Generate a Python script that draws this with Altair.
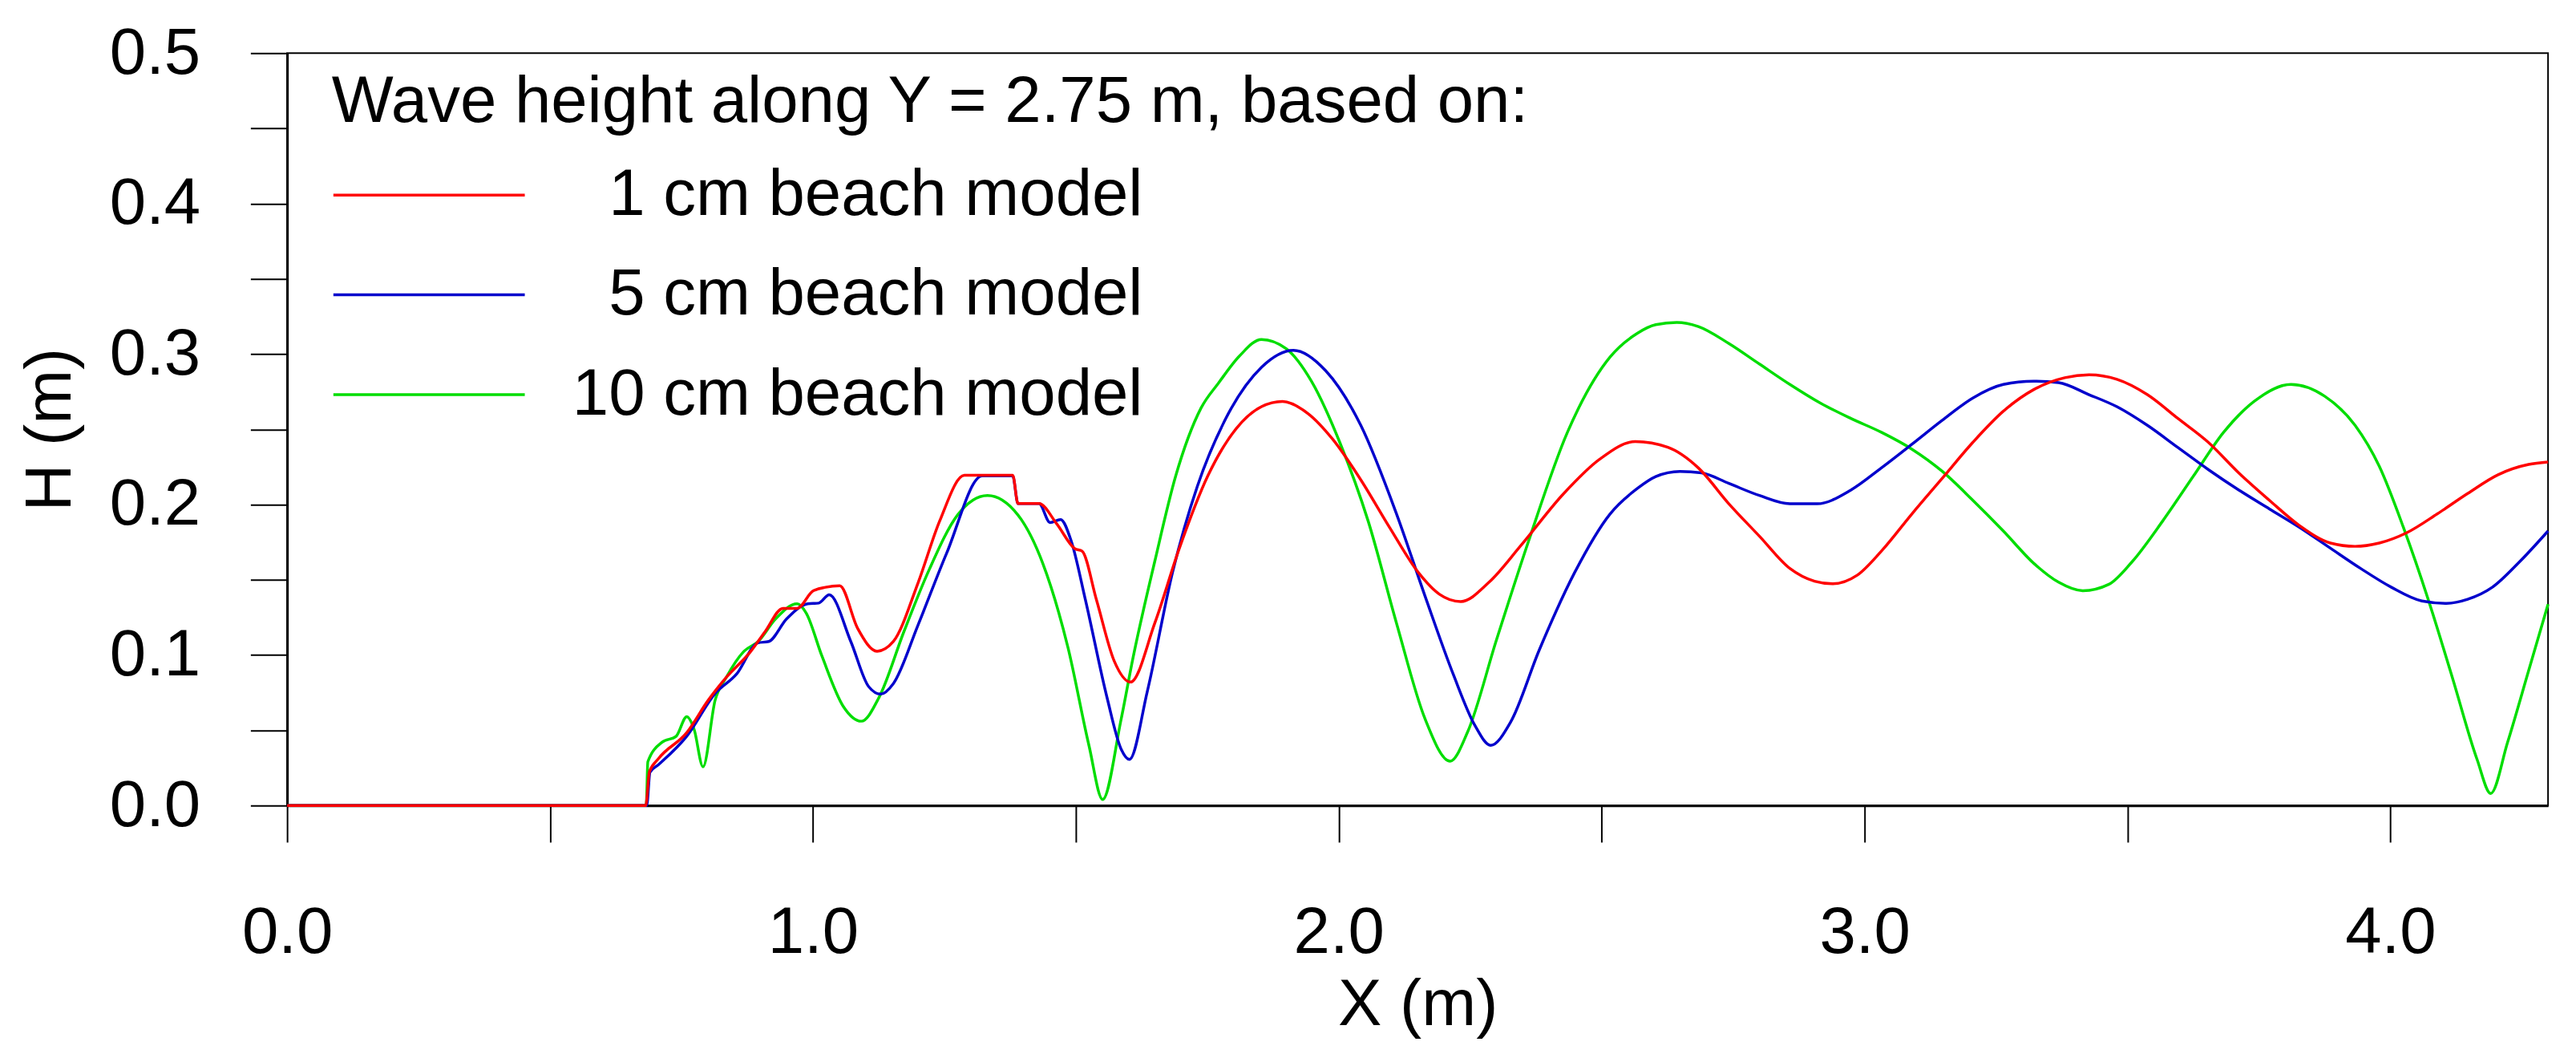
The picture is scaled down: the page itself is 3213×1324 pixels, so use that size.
import altair as alt
import pandas as pd

series_names = ["1 cm beach model", "5 cm beach model", "10 cm beach model"]
series_colors = ["#ff0000", "#0000cc", "#00dd00"]

red_x = [0.0, 0.682, 0.689, 0.706, 0.760, 0.801, 0.835, 0.882, 0.909, 0.943, 0.970, 1.000, 1.024, 1.051,
         1.085, 1.122, 1.153, 1.200, 1.241, 1.288, 1.380, 1.390, 1.430, 1.464, 1.498, 1.512, 1.539, 1.573,
         1.604, 1.650, 1.697, 1.751, 1.805, 1.853, 1.893, 1.941, 1.988, 2.042, 2.097, 2.151, 2.191, 2.232,
         2.286, 2.347, 2.428, 2.496, 2.564, 2.626, 2.684, 2.742, 2.800, 2.858, 2.905, 2.939, 2.986, 3.032,
         3.090, 3.148, 3.206, 3.264, 3.322, 3.381, 3.427, 3.480, 3.538, 3.596, 3.654, 3.712, 3.770, 3.828,
         3.886, 3.933, 3.979, 4.031, 4.089, 4.147, 4.205, 4.263, 4.300]
red_h = [0.0, 0.0, 0.0224, 0.031, 0.0484, 0.070, 0.085, 0.1025, 0.1155, 0.131, 0.131, 0.1425, 0.145, 0.146,
         0.1177, 0.1025, 0.109, 0.148, 0.189, 0.2194, 0.2194, 0.2006, 0.2006, 0.187, 0.1707, 0.169, 0.137, 0.096,
         0.082, 0.121, 0.171, 0.219, 0.2504, 0.265, 0.2685, 0.2606, 0.2436, 0.2164, 0.1846, 0.155, 0.1405, 0.1355,
         0.1484, 0.173, 0.2073, 0.230, 0.2418, 0.238, 0.2243, 0.2005, 0.179, 0.1575, 0.149, 0.1473, 0.153, 0.169,
         0.1937, 0.2175, 0.2413, 0.262, 0.2764, 0.2843, 0.2862, 0.2832, 0.273, 0.2572, 0.2413, 0.2209, 0.2028, 0.1858,
         0.1744, 0.1722, 0.1744, 0.1812, 0.1937, 0.2073, 0.2198, 0.2266, 0.2282]

blue_x = [0.0, 0.684, 0.690, 0.706, 0.760, 0.814, 0.855, 0.895, 0.916, 0.950, 0.990, 1.011, 1.031, 1.072,
          1.106, 1.129, 1.153, 1.200, 1.254, 1.322, 1.380, 1.390, 1.430, 1.451, 1.471, 1.491, 1.518, 1.559,
          1.586, 1.602, 1.636, 1.684, 1.731, 1.785, 1.853, 1.914, 1.975, 2.042, 2.110, 2.164, 2.218, 2.259,
          2.289, 2.327, 2.381, 2.449, 2.516, 2.568, 2.603, 2.649, 2.690, 2.742, 2.800, 2.858, 2.910, 2.974,
          3.032, 3.090, 3.148, 3.206, 3.264, 3.322, 3.369, 3.427, 3.480, 3.538, 3.596, 3.654, 3.712, 3.770,
          3.828, 3.886, 3.944, 4.002, 4.060, 4.107, 4.147, 4.194, 4.246, 4.300]
blue_h = [0.0, 0.0, 0.022, 0.027, 0.046, 0.0744, 0.0874, 0.108, 0.109, 0.124, 0.134, 0.1345, 0.140, 0.109,
          0.079, 0.074, 0.081, 0.120, 0.1674, 0.219, 0.219, 0.2006, 0.2006, 0.188, 0.190, 0.176, 0.137, 0.0722,
          0.0376, 0.0306, 0.0759, 0.155, 0.212, 0.257, 0.2912, 0.3025, 0.289, 0.2526, 0.1937, 0.1393, 0.087, 0.0532,
          0.040, 0.0555, 0.103, 0.155, 0.1937, 0.2107, 0.2186, 0.222, 0.221, 0.214, 0.206, 0.2005, 0.2005, 0.2096,
          0.2243, 0.240, 0.256, 0.2708, 0.2798, 0.282, 0.281, 0.273, 0.265, 0.2526, 0.2379, 0.2232, 0.2096, 0.1971,
          0.1847, 0.171, 0.1574, 0.145, 0.1359, 0.1343, 0.137, 0.145, 0.162, 0.1824]

green_x = [0.0, 0.683, 0.686, 0.713, 0.740, 0.760, 0.774, 0.791, 0.814, 0.835, 0.869, 0.896, 0.929, 0.970,
           0.987, 1.017, 1.058, 1.092, 1.126, 1.173, 1.221, 1.275, 1.332, 1.390, 1.437, 1.485, 1.525, 1.551,
           1.586, 1.609, 1.650, 1.690, 1.738, 1.772, 1.812, 1.853, 1.900, 1.948, 2.002, 2.056, 2.110, 2.164,
           2.212, 2.245, 2.300, 2.361, 2.435, 2.516, 2.568, 2.603, 2.643, 2.684, 2.742, 2.800, 2.858, 2.916,
           2.974, 3.032, 3.090, 3.148, 3.206, 3.264, 3.322, 3.369, 3.415, 3.465, 3.509, 3.567, 3.625, 3.683,
           3.741, 3.811, 3.875, 3.933, 3.979, 4.025, 4.072, 4.118, 4.165, 4.191, 4.223, 4.263, 4.300]
green_h = [0.0, 0.0, 0.029, 0.042, 0.046, 0.059, 0.0506, 0.0257, 0.070, 0.085, 0.1025, 0.109, 0.124, 0.134,
           0.128, 0.0994, 0.0657, 0.056, 0.072, 0.1155, 0.1566, 0.193, 0.206, 0.193, 0.161, 0.105, 0.0398, 0.004,
           0.057, 0.0985, 0.162, 0.219, 0.264, 0.281, 0.299, 0.3097, 0.3036, 0.282, 0.2413, 0.189, 0.121, 0.0577,
           0.0294, 0.0487, 0.110, 0.1756, 0.248, 0.298, 0.3138, 0.3195, 0.321, 0.3183, 0.307, 0.2934, 0.2798, 0.2674,
           0.2572, 0.248, 0.2368, 0.222, 0.2028, 0.1824, 0.1609, 0.1484, 0.1427, 0.147, 0.162, 0.189, 0.2186, 0.248,
           0.2685, 0.2798, 0.272, 0.2526, 0.2254, 0.1847, 0.137, 0.085, 0.0306, 0.008, 0.0419, 0.0895, 0.1337]

y_tick_values = [0.0, 0.05, 0.1, 0.15, 0.2, 0.25, 0.3, 0.35, 0.4, 0.45, 0.5]
x_tick_values = [0.0, 0.5, 1.0, 1.5, 2.0, 2.5, 3.0, 3.5, 4.0]

frames = []
# drawing order: green bottom, blue, red on top
for name, xs, hs in [(series_names[2], green_x, green_h),
                     (series_names[1], blue_x, blue_h),
                     (series_names[0], red_x, red_h)]:
    frames.append(pd.DataFrame({"X": xs, "H": hs, "series": name}))
df = pd.concat(frames, ignore_index=True)

FONT = "Liberation Sans"
FS = 82

chart = alt.Chart(df).mark_line(strokeWidth=3.5, interpolate="monotone").encode(
    x=alt.X("X:Q",
            scale=alt.Scale(domain=[0, 4.3], nice=False, zero=False),
            axis=alt.Axis(title="X (m)", values=x_tick_values,
                          labelExpr="round(datum.value*2) % 2 == 0 ? format(datum.value, '.1f') : ''",
                          labelFlush=False, labelOverlap=False, labelPadding=73, titlePadding=10)),
    y=alt.Y("H:Q",
            scale=alt.Scale(domain=[0, 0.5], nice=False),
            axis=alt.Axis(title="H (m)", values=y_tick_values,
                          labelExpr="round(datum.value*20) % 2 == 0 ? format(datum.value, '.1f') : ''",
                          labelFlush=False, labelOverlap=False, labelPadding=63, titlePadding=55)),
    color=alt.Color("series:N",
                    scale=alt.Scale(domain=series_names, range=series_colors),
                    legend=alt.Legend(title="Wave height along Y = 2.75 m, based on:",
                                      orient="none", legendX=56, legendY=21, padding=0,
                                      symbolType="stroke", symbolSize=57600, symbolStrokeWidth=3.5,
                                      clipHeight=82, rowPadding=43, titlePadding=34,
                                      labelAlign="right", labelOffset=773, labelLimit=3000,
                                      titleLimit=3000)),
    order=alt.value(0),
).properties(
    width=2835, height=943,
    padding={"left": 14, "top": 14, "right": 20, "bottom": 20},
).configure(
    font=FONT,
).configure_view(
    stroke="black", strokeWidth=2,
).configure_axis(
    labelFont=FONT, titleFont=FONT, labelFontSize=FS, titleFontSize=FS,
    titleFontWeight="normal", labelColor="black", titleColor="black",
    tickColor="black", domainColor="black", grid=False, tickSize=46,
    tickWidth=2, domainWidth=3,
).configure_legend(
    labelFont=FONT, titleFont=FONT, labelFontSize=FS, titleFontSize=FS,
    titleFontWeight="normal", labelColor="black", titleColor="black",
)

chart.save("out.html", embed_options={"renderer": "svg", "actions": False})
